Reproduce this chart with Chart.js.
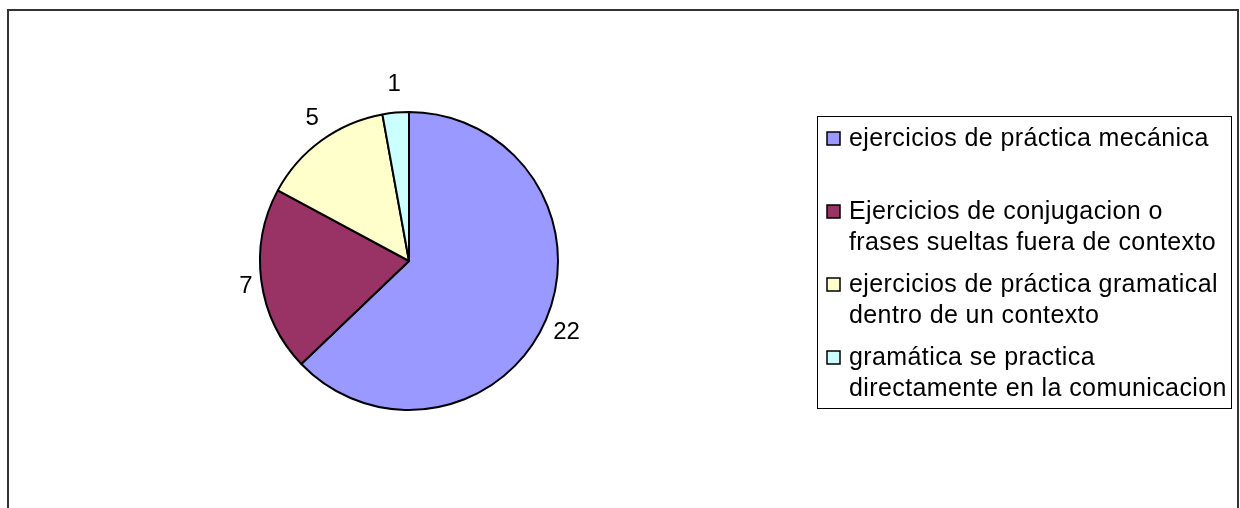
<!DOCTYPE html>
<html>
<head>
<meta charset="utf-8">
<title>Ejercicios de gramática</title>
<script src="https://cdn.jsdelivr.net/npm/chart.js@4/dist/chart.umd.min.js"></script>
<style>
  html, body { margin: 0; padding: 0; background: #fff; }
  #wrap { position: relative; width: 1240px; height: 508px; }
</style>
</head>
<body>
<div id="wrap"><canvas id="myChart"></canvas></div>
<script>
// categories (multi-line legend text) and counts
const categorias = [
  ['ejercicios de práctica mecánica'],
  ['Ejercicios de conjugacion o', 'frases sueltas fuera de contexto'],
  ['ejercicios de práctica gramatical', 'dentro de un contexto'],
  ['gramática se practica', 'directamente en la comunicacion']
];
const respuestas = [22, 7, 5, 1];
const colores = ['#9999FF', '#993366', '#FFFFCC', '#CCFFFF'];

const FUENTE = '"Liberation Sans", Arial, sans-serif';

// outer frame of the chart object
const marco = {
  id: 'marco',
  beforeDraw(chart) {
    const c = chart.ctx;
    c.save();
    c.strokeStyle = '#333';
    c.lineWidth = 2;
    c.strokeRect(8, 10, 1230, 520);
    c.restore();
  }
};

// value labels outside each slice
const etiquetas = {
  id: 'etiquetas',
  afterDatasetsDraw(chart) {
    const c = chart.ctx;
    const meta = chart.getDatasetMeta(0);
    c.save();
    c.fillStyle = '#000';
    c.font = '24px ' + FUENTE;
    c.textAlign = 'center';
    c.textBaseline = 'middle';
    meta.data.forEach((arc, i) => {
      const p = arc.getProps(['x', 'y', 'startAngle', 'endAngle', 'outerRadius'], true);
      const a = (p.startAngle + p.endAngle) / 2;
      const txt = String(chart.data.datasets[0].data[i]);
      const w = c.measureText(txt).width;
      const r = p.outerRadius + 8;
      const x = p.x + Math.cos(a) * (r + w / 2 + 1);
      const y = p.y + Math.sin(a) * (r + 21);
      c.fillText(txt, x, y + 1);
    });
    c.restore();
  }
};

// boxed legend on the right
const leyenda = {
  id: 'leyenda',
  afterDraw(chart) {
    const c = chart.ctx;
    const ds = chart.data.datasets[0];
    const x0 = 817.5, y0 = 116.5, w = 414, h = 292;
    c.save();
    c.strokeStyle = '#000';
    c.lineWidth = 1;
    c.strokeRect(x0, y0, w, h);
    c.font = '25px ' + FUENTE;
    c.letterSpacing = '0.4px';
    c.textAlign = 'left';
    c.textBaseline = 'alphabetic';
    chart.data.labels.forEach((lineas, i) => {
      const base = 146 + i * 73;
      c.fillStyle = ds.backgroundColor[i];
      c.fillRect(827, base - 14, 13, 13);
      c.strokeStyle = '#000';
      c.lineWidth = 1.5;
      c.strokeRect(827, base - 14, 13, 13);
      c.fillStyle = '#000';
      lineas.forEach((t, j) => c.fillText(t, 849, base + j * 31));
    });
    c.restore();
  }
};

const ctx = document.getElementById('myChart');
const myChart = new Chart(ctx, {
  type: 'pie',
  data: {
    labels: categorias,
    datasets: [{
      data: respuestas,
      backgroundColor: colores,
      borderColor: '#000',
      borderWidth: 2,
      hoverOffset: 0
    }]
  },
  options: {
    responsive: true,
    maintainAspectRatio: false,
    animation: false,
    radius: 149,
    layout: {
      padding: { left: 260, right: 682, top: 112, bottom: 98 }
    },
    plugins: {
      legend: { display: false },
      tooltip: { enabled: false }
    }
  },
  plugins: [marco, etiquetas, leyenda]
});
</script>
</body>
</html>
